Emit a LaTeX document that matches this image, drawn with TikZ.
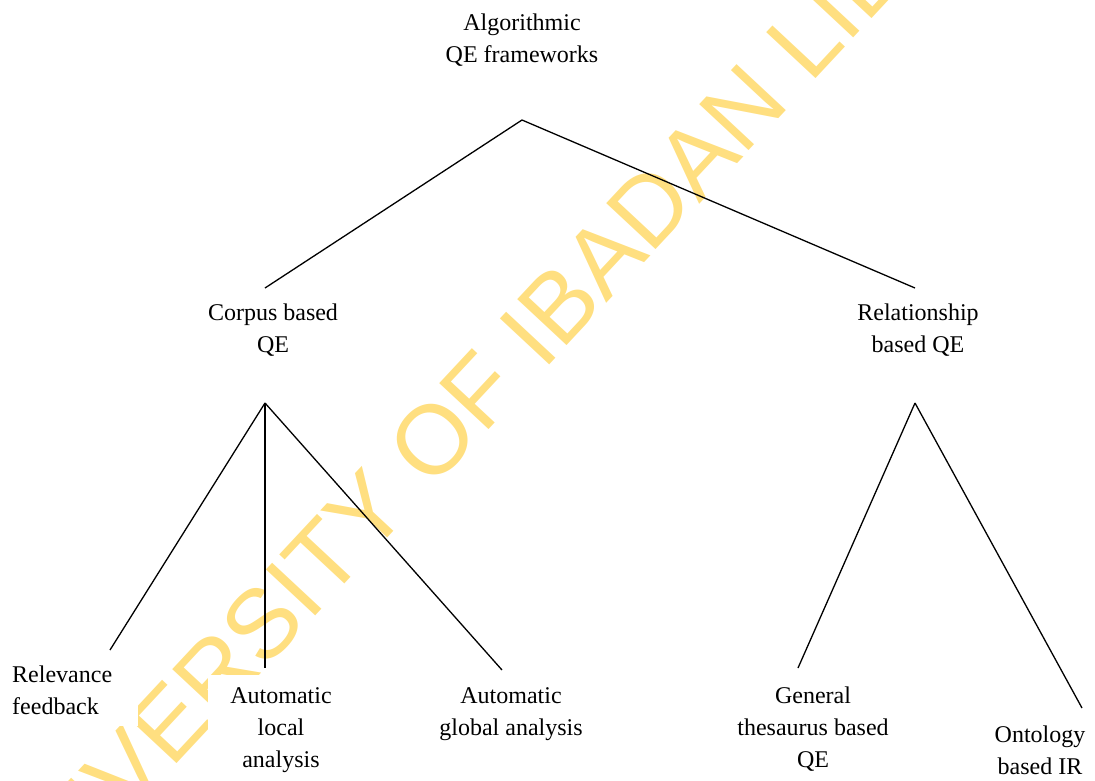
\documentclass[tikz,border=0pt]{standalone}
\usepackage{fontspec}
\setmainfont{Liberation Serif}
\newfontfamily\wmfamily{Liberation Sans}
\definecolor{wmyellow}{RGB}{255,223,128}
\begin{document}
\begin{tikzpicture}[x=1pt,y=-1pt,
  label/.style={font=\fontsize{24}{32}\selectfont, align=center, fill=white,
                inner xsep=22pt, inner ysep=12pt},
  branch/.style={draw=black, line width=1.3pt}]
  \useasboundingbox (0,0) rectangle (1095,780);
  \clip (0,0) rectangle (1095,780);

  % background stamp
  \node[rotate=47, text=wmyellow, font=\wmfamily\fontsize{98}{98}\selectfont, inner sep=0pt]
    (stamp) at (529,337) {UNIVERSITY OF IBADAN LIBRARY};

  % labels
  \node[label] (root) at (522,40) {Algorithmic\\QE frameworks};
  \node[label] (corpus) at (273,330) {Corpus based\\QE};
  \node[label] (relation) at (918,330) {Relationship\\based QE};
  \node[label, align=left, anchor=west, inner xsep=26pt] (relfb) at (-14,690) {Relevance\\feedback};
  \node[label] (local) at (281,730) {Automatic\\local\\analysis};
  \node[label] (global) at (511,714) {Automatic\\global analysis};
  \node[label] (thes) at (813,729) {General\\thesaurus based\\QE};
  \node[label] (onto) at (1040,750) {Ontology\\based IR};

  % branch points
  \coordinate (rootfork) at (522,120);
  \coordinate (corpustop) at (265,288);
  \coordinate (relationtop) at (915,288);
  \coordinate (corpusfork) at (265,403);
  \coordinate (relationfork) at (915,403);
  \coordinate (relfbend) at (110,650);
  \coordinate (localend) at (265,668);
  \coordinate (globalend) at (502,670);
  \coordinate (thesend) at (798,668);
  \coordinate (ontoend) at (1082,708);

  % tree edges
  \draw[branch] (corpustop) -- (rootfork) -- (relationtop);
  \draw[branch] (corpusfork) -- (relfbend);
  \draw[branch] (corpusfork) -- (localend);
  \draw[branch] (corpusfork) -- (globalend);
  \draw[branch] (relationfork) -- (thesend);
  \draw[branch] (relationfork) -- (ontoend);
\end{tikzpicture}
\end{document}
